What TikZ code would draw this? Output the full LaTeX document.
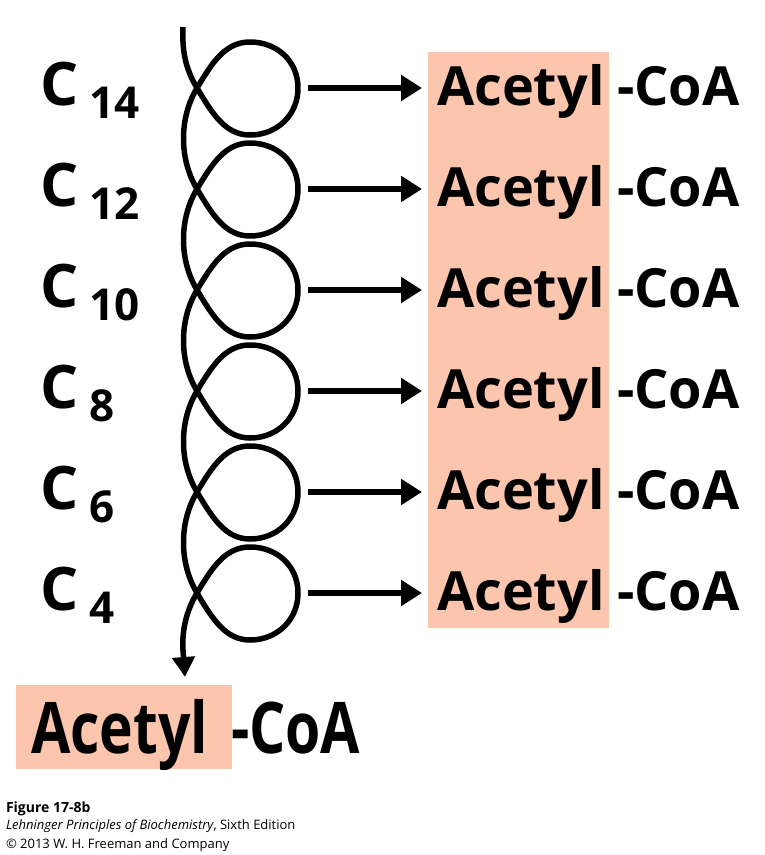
\documentclass[tikz,border=0pt]{standalone}
\usepackage{fontspec}
\setmainfont{Open Sans}
\usetikzlibrary{arrows.meta}
\definecolor{acpink}{RGB}{252,197,174}
\tikzset{every node/.style={inner sep=0pt, outer sep=0pt, anchor=base west}}
\tikzset{big/.style={font=\fontsize{54}{60}\selectfont\bfseries},
	chain/.style={font=\fontsize{60}{66}\selectfont\bfseries},
	sub/.style={font=\fontsize{44}{48}\selectfont\bfseries},
	captext/.style={font=\fontsize{13}{16}\selectfont},
	spiral/.style={line width=5.5pt, line join=round, -{Triangle[length=20pt,width=22pt]}},
	feed/.style={line width=6.5pt, -{Triangle[length=21pt,width=25pt]}, shorten >=15pt}}

\begin{document}
\begin{tikzpicture}[x=1pt,y=-1pt]
			\useasboundingbox (0,0) rectangle (764,855);
			
			% Pink boxes
			\fill[acpink] (428,52) rectangle (609,628);
			\fill[acpink] (16,685) rectangle (232,769);
			
			% Chain lengths
			\node[chain] (C14) at (41,105) {C};
			\node[sub] (n14) at (89,118) {14};
			\node[chain] (C12) at (41,206) {C};
			\node[sub] (n12) at (89,219) {12};
			\node[chain] (C10) at (41,307) {C};
			\node[sub] (n10) at (89,320) {10};
			\node[chain] (C8) at (41,408) {C};
			\node[sub] (n8) at (89,421) {8};
			\node[chain] (C6) at (41,509) {C};
			\node[sub] (n6) at (89,522) {6};
			\node[chain] (C4) at (41,610) {C};
			\node[sub] (n4) at (89,623) {4};
			
			% Acetyl-CoA released
			\node[big] (A1) at (437,105) {Acetyl};
			\node[big] (K1) at (617,105) {-CoA};
			\node[big] (A2) at (437,206) {Acetyl};
			\node[big] (K2) at (617,206) {-CoA};
			\node[big] (A3) at (437,307) {Acetyl};
			\node[big] (K3) at (617,307) {-CoA};
			\node[big] (A4) at (437,408) {Acetyl};
			\node[big] (K4) at (617,408) {-CoA};
			\node[big] (A5) at (437,509) {Acetyl};
			\node[big] (K5) at (617,509) {-CoA};
			\node[big] (A6) at (437,610) {Acetyl};
			\node[big] (K6) at (617,610) {-CoA};
			
			% Last one
			\node[big, font=\fontsize{57}{60}\selectfont\bfseries] (A0) at (31,753) {\scalebox{1}[1.25]{Acetyl}};
			\node[big, font=\fontsize{57}{60}\selectfont\bfseries] (K0) at (231,753) {\scalebox{1}[1.25]{-CoA}};
			
			% Arrows out of the loops
			\coordinate (L1) at (308,88);
			\coordinate (L2) at (308,189);
			\coordinate (L3) at (308,290);
			\coordinate (L4) at (308,391);
			\coordinate (L5) at (308,492);
			\coordinate (L6) at (308,593);
			\draw[feed] (L1) -- (L1 -| A1.west);
			\draw[feed] (L2) -- (L2 -| A2.west);
			\draw[feed] (L3) -- (L3 -| A3.west);
			\draw[feed] (L4) -- (L4 -| A4.west);
			\draw[feed] (L5) -- (L5 -| A5.west);
			\draw[feed] (L6) -- (L6 -| A6.west);
			
			% Spiral
			\coordinate (top) at (183,27);
			\coordinate (out) at (185,677);
			\draw[spiral] (top) .. controls (182,50) and (185,68) .. (197,88)
				.. controls (212,113) and (225,135) .. (250,135) .. controls (277,135) and (298,115) .. (298,88)
				.. controls (298,61) and (277,42) .. (250,42) .. controls (225,42) and (212,63) .. (197,88)
				.. controls (179,118) and (179,159) .. (197,189)
				.. controls (212,214) and (225,236) .. (250,236) .. controls (277,236) and (298,216) .. (298,189)
				.. controls (298,162) and (277,143) .. (250,143) .. controls (225,143) and (212,164) .. (197,189)
				.. controls (179,219) and (179,260) .. (197,290)
				.. controls (212,315) and (225,337) .. (250,337) .. controls (277,337) and (298,317) .. (298,290)
				.. controls (298,263) and (277,244) .. (250,244) .. controls (225,244) and (212,265) .. (197,290)
				.. controls (179,320) and (179,361) .. (197,391)
				.. controls (212,416) and (225,438) .. (250,438) .. controls (277,438) and (298,418) .. (298,391)
				.. controls (298,364) and (277,345) .. (250,345) .. controls (225,345) and (212,366) .. (197,391)
				.. controls (179,421) and (179,462) .. (197,492)
				.. controls (212,517) and (225,539) .. (250,539) .. controls (277,539) and (298,519) .. (298,492)
				.. controls (298,465) and (277,446) .. (250,446) .. controls (225,446) and (212,467) .. (197,492)
				.. controls (179,522) and (179,563) .. (197,593)
				.. controls (212,618) and (225,640) .. (250,640) .. controls (277,640) and (298,620) .. (298,593)
				.. controls (298,566) and (277,547) .. (250,547) .. controls (225,547) and (212,568) .. (197,593)
				.. controls (179,623) and (183,650) .. (out);
			
			% Caption
			\node[captext, font=\fontsize{14}{16}\selectfont\bfseries] (fig) at (6,812) {Figure 17-8b};
			\node[captext] (book) at (6,829) {\textit{Lehninger Principles of Biochemistry}, Sixth Edition};
			\node[captext] (copy) at (6,848) {© 2013 W. H. Freeman and Company};
		\end{tikzpicture}
\end{document}
